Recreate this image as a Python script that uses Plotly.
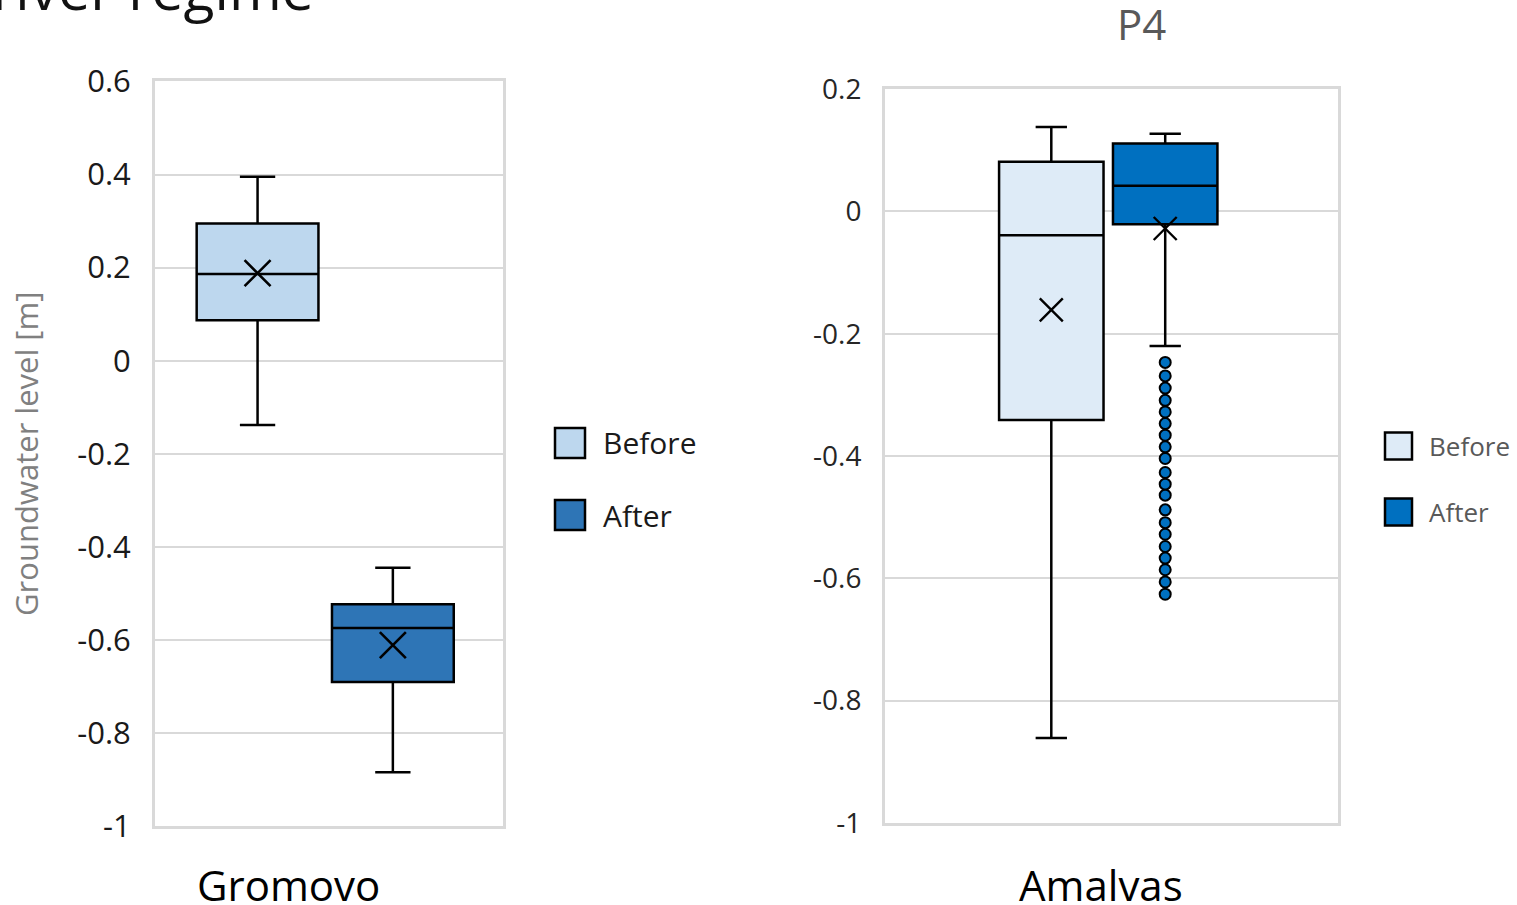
import plotly.graph_objects as go

W, H = 1517, 905

groups = ["Before", "After"]
sites = ["Gromovo", "Amalvas"]

# Groundwater level statistics [m], one value per group (Before, After)
gromovo_lower = [-0.138, -0.884]
gromovo_q1 = [0.087, -0.690]
gromovo_median = [0.186, -0.574]
gromovo_q3 = [0.295, -0.523]
gromovo_upper = [0.395, -0.445]
gromovo_mean = [0.188, -0.611]

amalvas_lower = [-0.861, -0.220]
amalvas_q1 = [-0.341, -0.021]
amalvas_median = [-0.039, 0.042]
amalvas_q3 = [0.081, 0.111]
amalvas_upper = [0.138, 0.127]
amalvas_mean = [-0.161, -0.028]
amalvas_after_outliers = [-0.247, -0.269, -0.289, -0.309, -0.328, -0.347, -0.366,
                          -0.385, -0.404, -0.427, -0.446, -0.464, -0.488, -0.509,
                          -0.528, -0.548, -0.567, -0.586, -0.606, -0.626]

gromovo_tickvals = [0.6, 0.4, 0.2, 0, -0.2, -0.4, -0.6, -0.8, -1]
gromovo_ticktext = ["0.6", "0.4", "0.2", "0", "-0.2", "-0.4", "-0.6", "-0.8", "-1"]
amalvas_tickvals = [0.2, 0, -0.2, -0.4, -0.6, -0.8, -1]
amalvas_ticktext = ["0.2", "0", "-0.2", "-0.4", "-0.6", "-0.8", "-1"]

gromovo_colors = ["#BDD7EE", "#2E75B6"]
amalvas_colors = ["#DEEBF7", "#0070C0"]

FONT = "Open Sans"


def fx(px):
    return px / W


def fy(px):
    return 1 - px / H


fig = go.Figure()

panels = [
    dict(xa="x", ya="y", lower=gromovo_lower, q1=gromovo_q1, med=gromovo_median,
         q3=gromovo_q3, upper=gromovo_upper, mean=gromovo_mean,
         colors=gromovo_colors, width=0.9, whisk=0.29, xsize=26, xlw=2.6),
    dict(xa="x2", ya="y2", lower=amalvas_lower, q1=amalvas_q1, med=amalvas_median,
         q3=amalvas_q3, upper=amalvas_upper, mean=amalvas_mean,
         colors=amalvas_colors, width=0.917, whisk=0.3, xsize=23, xlw=2.4),
]

for p in panels:
    for i, g in enumerate(groups):
        fig.add_trace(go.Box(
            x=[g], q1=[p["q1"][i]], median=[p["med"][i]], q3=[p["q3"][i]],
            lowerfence=[p["lower"][i]], upperfence=[p["upper"][i]],
            name=g, width=p["width"], whiskerwidth=p["whisk"],
            fillcolor=p["colors"][i], line=dict(color="black", width=2.5),
            boxpoints=False, showlegend=False, hoverinfo="skip",
            xaxis=p["xa"], yaxis=p["ya"],
        ))
    # mean markers
    fig.add_trace(go.Scatter(
        x=groups, y=p["mean"], mode="markers",
        marker=dict(symbol="x-thin", size=p["xsize"],
                    line=dict(color="black", width=p["xlw"])),
        showlegend=False, hoverinfo="skip", xaxis=p["xa"], yaxis=p["ya"],
    ))

# outliers of the Amalvas "After" series
fig.add_trace(go.Scatter(
    x=[groups[1]] * len(amalvas_after_outliers), y=amalvas_after_outliers,
    mode="markers",
    marker=dict(symbol="circle", size=11, color=amalvas_colors[1],
                line=dict(color="black", width=2)),
    showlegend=False, hoverinfo="skip", xaxis="x2", yaxis="y2",
))

frame = dict(showline=True, mirror=True, linecolor="#d9d9d9", linewidth=3,
             automargin=False)

fig.update_layout(
    width=W, height=H,
    margin=dict(l=0, r=0, t=0, b=0, pad=0),
    paper_bgcolor="white", plot_bgcolor="white",
    font=dict(family=FONT, color="#1a1a1a"),
    xaxis=dict(domain=[fx(155), fx(503)], anchor="y", type="category",
               categoryarray=groups, range=[-0.758, 1.814],
               showticklabels=False, showgrid=False, ticks="", **frame),
    yaxis=dict(domain=[fy(826.2), fy(81.4)], anchor="x", range=[-1, 0.6],
               tickvals=gromovo_tickvals, ticktext=gromovo_ticktext,
               tickfont=dict(size=31, color="#1a1a1a"), ticks="",
               ticklabelstandoff=15,
               showgrid=True, gridcolor="#d9d9d9", gridwidth=2, zeroline=False,
               title=dict(text="Groundwater level [m]",
                          font=dict(size=31, color="#808080"), standoff=30),
               **frame),
    xaxis2=dict(domain=[fx(885), fx(1338)], anchor="y2", type="category",
                categoryarray=groups, range=[-1.46, 2.517],
                showticklabels=False, showgrid=False, ticks="", **frame),
    yaxis2=dict(domain=[fy(822.9), fy(89.1)], anchor="x2", range=[-1, 0.2],
                tickvals=amalvas_tickvals, ticktext=amalvas_ticktext,
                tickfont=dict(size=28, color="#262626"), ticks="",
                ticklabelstandoff=15,
                showgrid=True, gridcolor="#d9d9d9", gridwidth=2, zeroline=False,
                **frame),
)

annotations = [
    dict(text="river regime", x=fx(316), y=fy(29), xanchor="right", yanchor="bottom",
         font=dict(size=57, color="#111111")),
    dict(text="P4", x=fx(1141), y=fy(23), xanchor="center", yanchor="middle",
         font=dict(size=42, color="#595959")),
    dict(text=sites[0], x=fx(288), y=fy(884), xanchor="center", yanchor="middle",
         font=dict(size=42, color="#000000")),
    dict(text=sites[1], x=fx(1101), y=fy(884), xanchor="center", yanchor="middle",
         font=dict(size=42, color="#000000")),
]

# legend blocks drawn beside each panel
shapes = []
legends = [
    dict(x0=555, size=30, rows=[443, 515], text_x=601, colors=gromovo_colors,
         fsize=30, fcolor="#1a1a1a"),
    dict(x0=1385, size=27, rows=[446, 512], text_x=1427, colors=amalvas_colors,
         fsize=26, fcolor="#595959"),
]
for lg in legends:
    for i, g in enumerate(groups):
        cy = lg["rows"][i]
        half = lg["size"] / 2
        shapes.append(dict(type="rect", xref="paper", yref="paper",
                           x0=fx(lg["x0"]), x1=fx(lg["x0"] + lg["size"]),
                           y0=fy(cy + half), y1=fy(cy - half),
                           fillcolor=lg["colors"][i],
                           line=dict(color="black", width=2.5)))
        annotations.append(dict(text=g, x=fx(lg["text_x"]), y=fy(cy),
                                xanchor="left", yanchor="middle",
                                font=dict(size=lg["fsize"], color=lg["fcolor"])))

for a in annotations:
    a.update(xref="paper", yref="paper", showarrow=False)

fig.update_layout(annotations=annotations, shapes=shapes)

fig.write_html("out.html")
